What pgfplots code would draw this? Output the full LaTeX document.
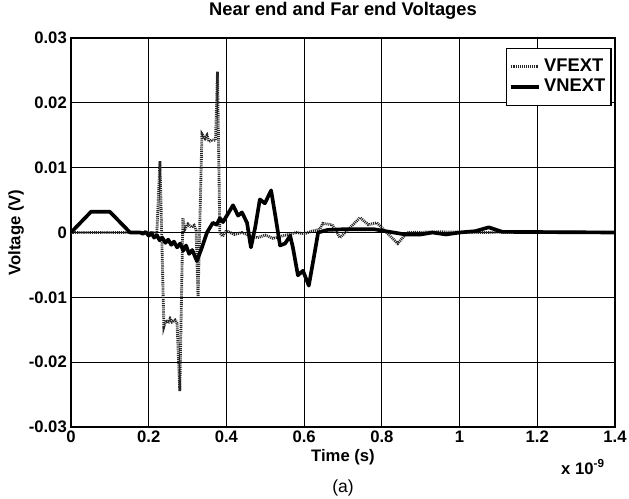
\documentclass[border=0pt]{standalone}
\usepackage{fontspec}
\setmainfont{Liberation Sans}
\usepackage{pgfplots}
\pgfplotsset{compat=1.18}
\begin{document}
\begin{tikzpicture}[x=1pt,y=1pt]
\path[use as bounding box] (-42.6,-43.2) rectangle (334.8,256.2);
\begin{axis}[
  at={(0,0)}, anchor=south west,
  scale only axis, width=326.4pt, height=233.4pt,
  xmin=0, xmax=1.4, ymin=-0.03, ymax=0.03,
  xtick={0,0.2,0.4,0.6,0.8,1,1.2,1.4},
  xticklabels={0,0.2,0.4,0.6,0.8,1,1.2,1.4},
  ytick={-0.03,-0.02,-0.01,0,0.01,0.02,0.03},
  yticklabels={-0.03,-0.02,-0.01,0,0.01,0.02,0.03},
  scaled x ticks=false, scaled y ticks=false,
  grid=major, major grid style={black, line width=0.55pt},
  tick align=inside, major tick length=3pt,
  tick style={black, line width=0.5pt},
  axis line style={black, line width=0.9pt},
  ticklabel style={font=\bfseries\fontsize{10}{12}\selectfont},
  xticklabel style={yshift=1pt},
  yticklabel style={xshift=1pt},
  legend style={at={(rel axis cs:0.994,0.975)}, anchor=north east, draw=black, line width=0.8pt,
    font=\bfseries\fontsize{11}{13}\selectfont, inner xsep=1.5pt, inner ysep=4.5pt, row sep=-1pt, cells={anchor=west}},
  legend image code/.code={\draw[#1] (0pt,0pt) -- (17pt,0pt);},
  clip=true,
]
\addplot[black!85, line width=1.7pt, dash pattern=on 0.6pt off 0.55pt] coordinates {
(0,0) (0.221,0) (0.229,0.011) (0.239,-0.0145) (0.244,-0.0135) (0.250,-0.0140)
(0.255,-0.0133) (0.260,-0.0138) (0.268,-0.0135) (0.273,-0.0140) (0.280,-0.0245)
(0.288,0.0022) (0.293,0.0005) (0.301,0.0013) (0.309,0.0008) (0.317,0.0011)
(0.322,0.0003) (0.327,-0.0100) (0.337,0.0152) (0.345,0.0145) (0.350,0.0150)
(0.355,0.0140) (0.363,0.0143) (0.372,0.0142) (0.377,0.0248) (0.383,0.0000)
(0.39,-0.0006) (0.40,0.0003) (0.42,-0.0003) (0.44,0.0) (0.46,-0.0005) (0.48,-0.0008)
(0.50,-0.0004) (0.52,-0.0009) (0.54,-0.0006) (0.56,-0.0003) (0.58,0.0) (0.60,-0.0002)
(0.62,0.0002) (0.64,0.0005) (0.648,0.0014) (0.672,0.0012) (0.692,-0.0008)
(0.744,0.0023) (0.765,0.0012) (0.787,0.0015) (0.841,-0.0017) (0.865,0.0)
(0.95,0.0001) (1.05,0.0) (1.2,0.0001) (1.4,0.0)
};
\addlegendentry{VFEXT}
\addplot[black, line width=2.2pt, line join=round] coordinates {
(0,0) (0.0515,0.0032) (0.100,0.0032) (0.152,0.0) (0.178,0.0)
(0.185,-0.0002) (0.192,0.0001) (0.200,-0.0005) (0.207,-0.0001) (0.214,-0.0008)
(0.221,-0.0004) (0.228,-0.0012) (0.235,-0.0008) (0.243,-0.0016) (0.250,-0.0011)
(0.258,-0.0019) (0.265,-0.0014) (0.273,-0.0023) (0.281,-0.0017) (0.289,-0.0028)
(0.296,-0.0020) (0.304,-0.0033) (0.312,-0.0027) (0.324,-0.0044) (0.337,-0.0023)
(0.350,0.0000) (0.365,0.0015) (0.375,0.0012) (0.383,0.0022) (0.391,0.0016)
(0.404,0.0029) (0.417,0.0042) (0.430,0.0026) (0.440,0.0031) (0.453,0.0015)
(0.463,-0.0023) (0.474,0.0008) (0.486,0.0051) (0.499,0.0045) (0.515,0.0065)
(0.525,0.0029) (0.538,-0.0020) (0.551,-0.0017) (0.564,-0.0005) (0.571,-0.0023)
(0.584,-0.0066) (0.597,-0.0059) (0.612,-0.0082) (0.628,-0.0028) (0.636,0.0000)
(0.66,0.0004) (0.70,0.0005) (0.78,0.0005) (0.82,0.0001) (0.86,-0.0003)
(0.90,-0.0003) (0.93,0.0000) (0.965,-0.0003) (1.00,0.0000) (1.04,0.0002)
(1.075,0.0008) (1.11,0.0001) (1.4,0.0)
};
\addlegendentry{VNEXT}
\end{axis}
\node[font=\bfseries\fontsize{11}{13}\selectfont] at (163.2,250) {Near end and Far end Voltages};
\node[font=\bfseries\fontsize{10}{12}\selectfont] at (163.2,-18) {Time (s)};
\node[font=\bfseries\fontsize{10}{12}\selectfont, rotate=90] at (-33,116.7) {Voltage (V)};
\node[font=\bfseries\fontsize{10}{12}\selectfont] at (307.2,-24) {x 10\textsuperscript{-9}};
\node[font=\fontsize{10.5}{12}\selectfont] at (163.2,-36.6) {(a)};
\end{tikzpicture}
\end{document}
